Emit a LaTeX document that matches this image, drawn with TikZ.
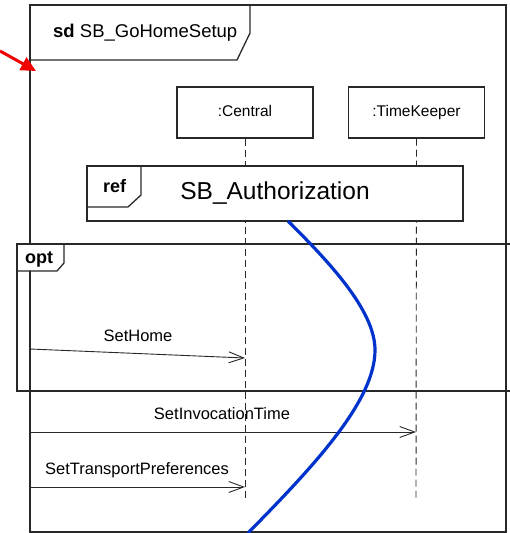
\documentclass[tikz,border=0pt]{standalone}
\usepackage{fontspec}
\setmainfont{Liberation Sans}
\usetikzlibrary{arrows.meta}
\definecolor{linegray}{RGB}{40,40,40}
\definecolor{pathblue}{RGB}{0,51,204}
\definecolor{markred}{RGB}{240,0,0}
\begin{document}
\begin{tikzpicture}[x=1pt,y=-1pt,
  frameline/.style={draw=linegray,line width=1.3pt},
  headbox/.style={draw=linegray,fill=white,line width=1.1pt,
    minimum width=136pt,minimum height=51pt,inner sep=0pt,
    text height=11.5pt,text depth=3.5pt,
    font=\fontsize{15.5}{18}\selectfont},
  lifeline/.style={draw=linegray,line width=0.9pt,dash pattern=on 7pt off 4pt},
  msg/.style={draw=linegray,line width=0.9pt,
    -{Straight Barb[length=15pt,width=11pt,line width=0.9pt]}},
  msglabel/.style={inner sep=0pt,anchor=base,font=\fontsize{16.5}{19}\selectfont},
  tablabel/.style={inner sep=0pt,anchor=base west,font=\fontsize{18}{21}\selectfont\bfseries}]
\useasboundingbox (0,0) rectangle (510,533);

% sd frame
\draw[frameline] (30,5) rectangle (506,532);

% lifeline heads
\node[headbox] (central) at (245,112.5) {:Central};
\node[headbox] (keeper) at (416.5,112.5) {:TimeKeeper};
\coordinate (central-end) at (245,500);
\coordinate (keeper-end) at (416,500);
\draw[lifeline] (central.south) -- (central-end);
\draw[lifeline] (keeper.south) -- (keeper-end);

% interaction use
\node[draw=linegray,fill=white,line width=1.3pt,minimum width=376pt,minimum height=55pt,
  inner sep=0pt,font=\fontsize{24.5}{28}\selectfont] (authref) at (275,193.5) {SB\_Authorization};
\draw[frameline] (87,207) -- (128,207) -- (141,195) -- (141,166);
\node[tablabel] (reflabel) at (103,192) {ref};

% opt fragment
\draw[frameline] (510,244) -- (17,244) -- (17,391) -- (510,391);
\fill[white] (18,245) -- (18,270.5) -- (56.5,270.5) -- (63.5,262.5) -- (63.5,245) -- cycle;
\draw[frameline] (17,271) -- (57,271) -- (64,263) -- (64,244);
\node[tablabel] (optlabel) at (25,263) {opt};

% sd tab
\draw[frameline] (30,60) -- (237,60) -- (250,33) -- (250,5);
\node[inner sep=0pt,anchor=base west,font=\fontsize{18.5}{22}\selectfont] (sdlabel) at (53,37.5)
  {\textbf{sd} SB\_GoHomeSetup};

% messages
\coordinate (home-s) at (30,349);
\coordinate (home-e) at (245,358);
\coordinate (inv-s) at (30,432);
\coordinate (inv-e) at (416,432);
\coordinate (pref-s) at (30,487);
\coordinate (pref-e) at (245,487);
\draw[msg] (home-s) -- (home-e);
\draw[msg] (inv-s) -- (inv-e);
\draw[msg] (pref-s) -- (pref-e);
\node[msglabel] (homelabel) at (138,341) {SetHome};
\node[msglabel] (invlabel) at (222,419) {SetInvocationTime};
\node[msglabel] (preflabel) at (137,474) {SetTransportPreferences};

% highlighted path
\coordinate (path-s) at (288,221);
\coordinate (path-m) at (375,350);
\coordinate (path-e) at (248,533);
\draw[pathblue,line width=3.2pt]
  (path-s) .. controls (328,261) and (375,310) .. (path-m)
           .. controls (375,400) and (317,463) .. (path-e);

% pointer to the frame corner
\coordinate (ptr-s) at (0,51);
\coordinate (ptr-e) at (36,71);
\draw[markred,line width=3pt,-{Triangle[length=15pt,width=14pt]}] (ptr-s) -- (ptr-e);
\end{tikzpicture}
\end{document}
